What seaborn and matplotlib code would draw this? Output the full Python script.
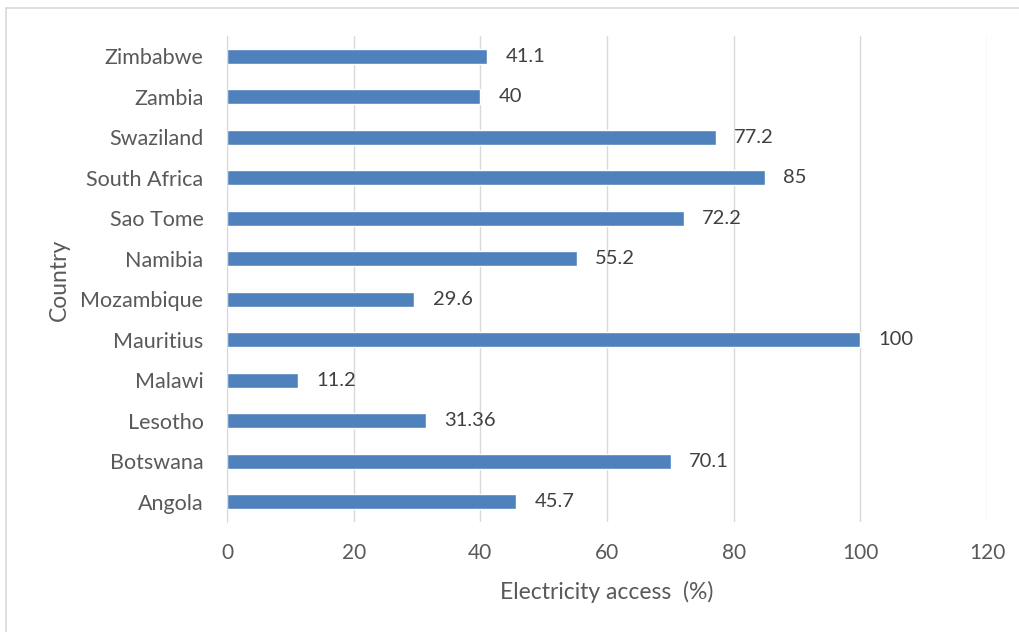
import numpy as np
import pandas as pd
import matplotlib
matplotlib.use('Agg')
import matplotlib.pyplot as plt
from matplotlib.lines import Line2D
from matplotlib.ticker import FixedLocator
import seaborn as sns

countries = ['Zimbabwe', 'Zambia', 'Swaziland', 'South Africa', 'Sao Tome', 'Namibia',
             'Mozambique', 'Mauritius', 'Malawi', 'Lesotho', 'Botswana', 'Angola']
access = [41.1, 40, 77.2, 85, 72.2, 55.2, 29.6, 100, 11.2, 31.36, 70.1, 45.7]
value_labels = ['41.1', '40', '77.2', '85', '72.2', '55.2', '29.6', '100', '11.2', '31.36', '70.1', '45.7']
x_ticks = [0, 20, 40, 60, 80, 100, 120]

df = pd.DataFrame({'Country': countries, 'Access': access})

sns.set_style('white')
plt.rcParams['font.family'] = ['Lato', 'DejaVu Sans']

fig = plt.figure(figsize=(10.2, 6.32), dpi=100)
ax = fig.add_axes([227 / 1020, 1 - 522 / 632, 760 / 1020, 486 / 632])

sns.barplot(data=df, x='Access', y='Country', order=countries, orient='h',
            color='#4F81BD', saturation=1, width=0.38, ax=ax)

ax.bar_label(ax.containers[0], labels=value_labels, padding=13,
             fontsize=14.5, color='#404040')

ax.set_xlim(0, 120)
ax.set_ylim(11.5, -0.5)
ax.set_xticks(x_ticks)
ax.set_xticklabels([str(t) for t in x_ticks])
ax.grid(axis='x', color='#D9D9D9', linewidth=1)
ax.set_axisbelow(True)
for s in ['top', 'right', 'bottom']:
    ax.spines[s].set_visible(False)
ax.spines['left'].set_color('#D9D9D9')
ax.tick_params(axis='x', length=0, labelsize=15, labelcolor='#595959', pad=15)
ax.tick_params(axis='y', which='major', length=0, labelsize=15.5, labelcolor='#595959', pad=17)
ax.yaxis.set_minor_locator(FixedLocator(np.arange(-0.5, 12, 1)))
ax.tick_params(axis='y', which='minor', length=5, color='#D9D9D9', width=1)

ax.set_xlabel('Electricity access  (%)', fontsize=16.5, color='#595959',
              va='center', ha='center')
ax.set_ylabel('Country', fontsize=16.5, color='#595959',
              va='center', ha='center', rotation_mode='default')
ax.xaxis.set_label_coords(0.5, (522 - 592) / 486)
ax.yaxis.set_label_coords((59 - 227) / 760, (522 - 280) / 486)

# outer chart frame
fig.add_artist(Line2D([6 / 1020, 6 / 1020], [0, 1 - 8 / 632], transform=fig.transFigure,
                      color='#D9D9D9', linewidth=1.2))
fig.add_artist(Line2D([6 / 1020, 1], [1 - 8 / 632, 1 - 8 / 632], transform=fig.transFigure,
                      color='#D9D9D9', linewidth=1.2))

fig.savefig('out.png', dpi=100)
